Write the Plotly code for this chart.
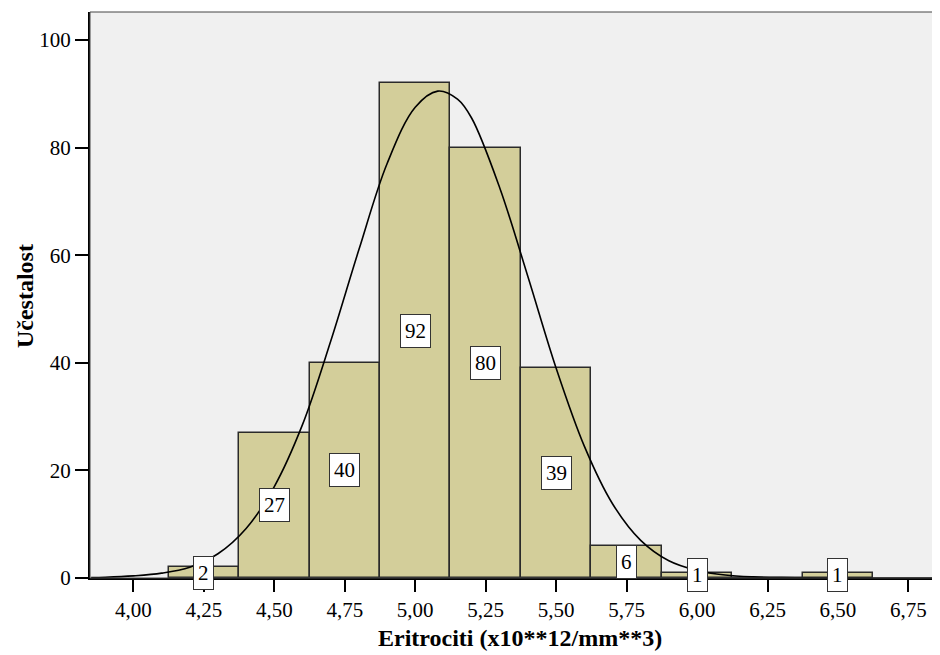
import plotly.graph_objects as go

bin_centers = [4.25, 4.50, 4.75, 5.00, 5.25, 5.50, 5.75, 6.00, 6.25, 6.50]
counts = [2, 27, 40, 92, 80, 39, 6, 1, 0, 1]

curve_x = [3.85, 3.90, 4.00, 4.10, 4.20, 4.30, 4.40, 4.50, 4.60, 4.70, 4.80, 4.90,
           5.00, 5.08, 5.15, 5.20, 5.30, 5.40, 5.50, 5.60, 5.70, 5.80, 5.90, 6.00,
           6.10, 6.20, 6.30, 6.40, 6.50, 6.86]
curve_y = [0.1, 0.15, 0.4, 0.9, 2.0, 4.5, 9.2, 17.0, 28.5, 44.0, 61.0, 77.0,
           87.5, 90.5, 89.0, 85.5, 72.5, 56.0, 39.0, 24.5, 13.8, 7.0, 3.2, 1.4,
           0.55, 0.2, 0.07, 0.02, 0.0, 0.0]

x_tickvals = [4.00, 4.25, 4.50, 4.75, 5.00, 5.25, 5.50, 5.75, 6.00, 6.25, 6.50, 6.75]
x_ticktext = ["4,00", "4,25", "4,50", "4,75", "5,00", "5,25", "5,50", "5,75", "6,00", "6,25", "6,50", "6,75"]
y_tickvals = [0, 20, 40, 60, 80, 100]

x_title = "Eritrociti (x10**12/mm**3)"
y_title = "Učestalost"

FONT = "Liberation Serif, Times New Roman, serif"

fig = go.Figure()
fig.add_trace(go.Bar(
    x=bin_centers, y=counts, width=0.25,
    marker=dict(color="#D3CE9A", line=dict(color="#2a2a2a", width=1.5)),
    hoverinfo="x+y", showlegend=False,
))
fig.add_trace(go.Scatter(
    x=curve_x, y=curve_y, mode="lines",
    line=dict(color="black", width=1.6, shape="spline", smoothing=1.0),
    showlegend=False, hoverinfo="skip",
))

for xc, c in zip(bin_centers, counts):
    if c == 0:
        continue
    fig.add_annotation(
        x=xc, y=c / 2, xref="x", yref="y", text=str(c), showarrow=False,
        font=dict(family=FONT, size=21, color="black"),
        bgcolor="white", bordercolor="#333333", borderwidth=1, borderpad=4,
    )

fig.add_shape(type="rect", xref="paper", yref="paper", x0=0, y0=0, x1=1, y1=1,
              line=dict(color="#444444", width=1), fillcolor="rgba(0,0,0,0)", layer="above")

fig.add_annotation(x=0.5076, y=-0.106, xref="paper", yref="paper", showarrow=False,
                   text="<b>" + x_title + "</b>", xanchor="center", yanchor="middle",
                   font=dict(family=FONT, size=24, color="black"))
fig.add_annotation(x=-0.0767, y=0.498, xref="paper", yref="paper", showarrow=False,
                   text="<b>" + y_title + "</b>", textangle=-90, xanchor="center", yanchor="middle",
                   font=dict(family=FONT, size=24, color="black"))

fig.update_layout(
    width=940, height=655,
    margin=dict(l=82, r=10, t=4, b=85, autoexpand=False),
    paper_bgcolor="white", plot_bgcolor="#F0F0F0",
    font=dict(family=FONT, size=21, color="black"),
    bargap=0,
    xaxis=dict(
        range=[3.846, 6.855], tickvals=x_tickvals, ticktext=x_ticktext,
        ticks="outside", ticklen=12, tickwidth=2, tickcolor="black",
        showline=True, linecolor="black", linewidth=2,
        showgrid=False, zeroline=False, automargin=False,
        tickfont=dict(family=FONT, size=21),
    ),
    yaxis=dict(
        range=[0, 105.2], tickvals=y_tickvals,
        ticks="outside", ticklen=13, tickwidth=2, tickcolor="black",
        showline=True, linecolor="black", linewidth=2,
        showgrid=False, zeroline=False, automargin=False,
        tickfont=dict(family=FONT, size=21),
    ),
)

fig.write_html("out.html")
